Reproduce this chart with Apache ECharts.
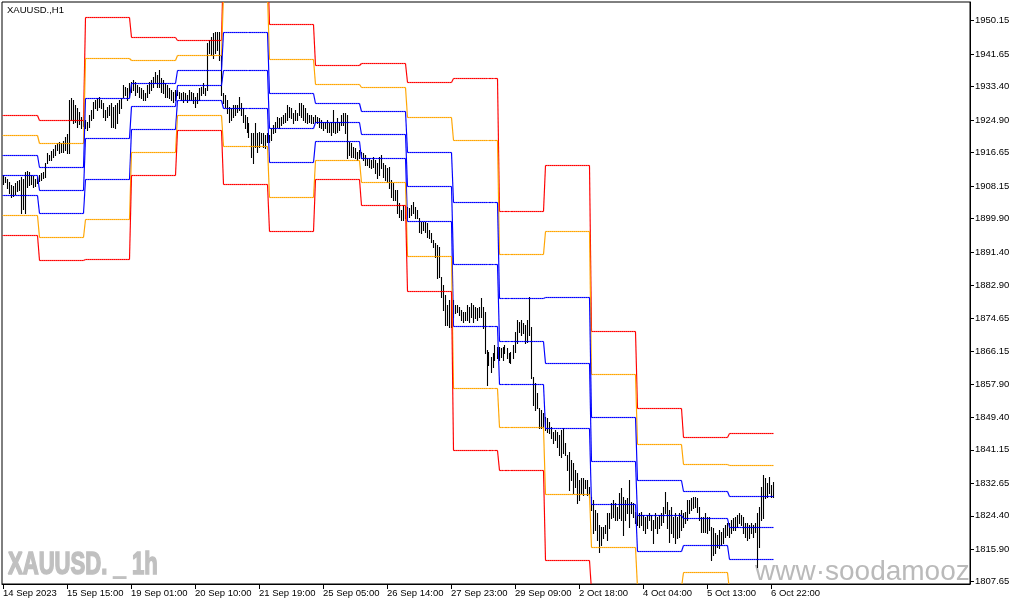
<!DOCTYPE html>
<html><head><meta charset="utf-8">
<script src="https://cdn.jsdelivr.net/npm/echarts@6/dist/echarts.min.js"></script>
<style>html,body{margin:0;padding:0;background:#fff}#c{width:1015px;height:605px}</style>
</head><body><div id="c"></div>
<script>
// bars per trading day: 14 Sep (from 06:00), then 15,18,19,20,21,22,25,26,27,28,29 Sep, 2,3,4,5,6 Oct
const dayBars = [18,23,23,23,23,23,23,23,23,23,23,23,23,23,23,23,23];

// hourly highs
const high = [
1911.0,1910.4,1909.9,1909.2,1908.4,1908.2,1908.9,1909.4,1909.7,1910.4,1909.9,1911.7,1912.0,1911.7,1911.0,1910.7,1909.9,1910.4,
1911.0,1911.5,1911.7,1914.0,1916.5,1916.0,1917.0,1917.6,1918.6,1919.1,1919.3,1919.1,1919.6,1920.6,1921.4,1930.0,1930.5,1930.0,1928.7,1928.0,1927.0,1925.7,1926.2,
1924.9,1924.4,1926.2,1927.5,1929.5,1930.0,1930.5,1930.8,1930.0,1929.2,1927.5,1928.2,1928.7,1929.2,1928.2,1928.7,1929.2,1930.0,1930.5,1933.8,1933.3,1933.0,1934.3,
1934.6,1935.1,1934.6,1933.8,1933.3,1933.0,1932.5,1931.8,1933.8,1934.6,1935.1,1935.8,1937.1,1936.4,1937.6,1935.6,1935.1,1934.3,1933.8,1933.0,1932.5,1932.0,1932.5,
1932.5,1932.0,1931.8,1932.0,1931.8,1931.3,1932.5,1932.0,1931.8,1930.8,1931.8,1933.0,1933.3,1934.3,1933.0,1944.5,1945.2,1946.0,1947.0,1947.3,1947.3,1947.3,1941.4,
1931.8,1931.3,1930.0,1928.2,1928.0,1928.7,1928.7,1928.7,1930.8,1929.2,1928.0,1926.2,1925.7,1924.2,1921.6,1921.6,1924.2,1921.6,1921.9,1921.6,1921.6,1921.1,1921.6,
1921.1,1922.9,1923.7,1924.4,1925.7,1925.4,1925.7,1926.2,1926.7,1928.7,1928.2,1928.0,1926.7,1927.5,1926.7,1929.2,1929.2,1928.7,1928.0,1926.7,1926.2,1926.2,1925.7,
1926.2,1925.7,1925.4,1924.9,1924.4,1924.4,1924.9,1924.2,1924.4,1927.5,1924.4,1925.4,1924.4,1926.2,1926.7,1926.7,1926.2,1919.3,1919.1,1918.1,1917.8,1916.8,1917.3,
1916.8,1916.5,1916.0,1915.3,1915.3,1914.8,1915.5,1914.8,1914.0,1915.5,1916.0,1914.0,1913.5,1912.7,1913.0,1909.7,1908.9,1907.1,1907.1,1903.8,1902.1,1903.3,1902.8,
1902.8,1902.6,1903.3,1904.1,1902.8,1902.1,1900.0,1899.0,1899.0,1899.0,1898.8,1897.0,1896.2,1894.4,1893.7,1893.2,1892.7,1885.0,1883.0,1880.5,1877.9,1879.2,1879.2,
1879.2,1877.9,1877.9,1877.4,1876.7,1876.2,1876.2,1877.9,1877.4,1878.4,1877.9,1877.4,1877.2,1877.4,1879.7,1877.4,1876.2,1866.5,1866.0,1864.7,1865.7,1867.8,1867.3,
1867.3,1867.0,1867.3,1867.8,1867.0,1865.7,1866.0,1867.8,1871.1,1874.1,1873.6,1874.1,1873.4,1872.8,1874.1,1880.0,1872.3,1859.6,1858.1,1855.6,1851.8,1851.3,1850.5,
1849.5,1849.2,1848.2,1846.9,1845.7,1846.2,1845.7,1844.9,1846.2,1846.7,1842.9,1839.8,1840.6,1838.6,1837.8,1836.0,1835.3,1833.5,1834.0,1834.0,1833.5,1833.5,1831.7,
1829.2,1828.4,1825.9,1825.1,1822.1,1821.5,1821.5,1822.1,1825.1,1825.1,1827.6,1828.4,1827.6,1826.6,1830.2,1831.4,1829.2,1828.4,1828.9,1833.5,1827.9,1827.6,1825.4,
1825.1,1825.1,1825.4,1824.6,1824.1,1824.6,1825.1,1824.6,1823.3,1825.1,1824.1,1824.6,1825.1,1826.6,1830.4,1827.9,1825.9,1826.6,1824.1,1825.1,1824.1,1825.1,1825.9,
1825.1,1825.4,1828.4,1828.4,1828.9,1829.2,1829.2,1828.9,1826.6,1824.1,1824.1,1825.1,1824.1,1824.1,1821.5,1821.3,1820.0,1819.5,1820.8,1820.3,1821.3,1822.1,1822.6,
1822.6,1823.3,1823.8,1824.1,1824.6,1825.1,1824.6,1824.1,1822.6,1822.6,1822.1,1822.6,1822.1,1822.6,1825.1,1826.6,1831.7,1834.8,1834.0,1832.7,1834.2,1832.2,1833.0
];

// hourly lows
const low = [
1908.7,1909.2,1907.7,1906.4,1905.4,1905.6,1906.1,1906.9,1907.1,1901.3,1902.3,1901.3,1907.9,1908.4,1908.7,1907.9,1908.2,1908.9,
1909.4,1909.7,1910.2,1910.4,1914.0,1914.8,1914.8,1915.5,1916.0,1917.3,1916.5,1916.8,1916.8,1917.3,1916.5,1916.5,1924.9,1924.2,1924.4,1923.1,1923.9,1922.9,1923.4,
1922.9,1922.4,1923.1,1924.9,1925.4,1928.0,1927.5,1928.2,1928.0,1925.7,1924.9,1925.7,1926.2,1923.1,1923.1,1922.9,1924.2,1926.7,1928.0,1930.8,1931.3,1930.0,1930.8,
1932.0,1932.5,1931.3,1932.0,1930.8,1930.5,1930.0,1930.0,1930.8,1931.8,1932.5,1933.3,1934.3,1933.3,1933.3,1932.0,1931.8,1930.8,1930.8,1930.5,1930.0,1929.5,1930.0,
1931.3,1930.5,1930.0,1929.5,1930.0,1929.5,1930.0,1930.0,1929.2,1928.2,1929.2,1930.0,1931.3,1931.8,1931.3,1932.5,1941.9,1941.4,1940.7,1941.9,1942.7,1940.2,1931.3,
1929.2,1928.2,1926.7,1924.4,1924.9,1925.7,1926.2,1927.0,1927.5,1926.2,1924.4,1922.9,1921.9,1920.6,1915.5,1914.0,1918.1,1916.8,1918.1,1919.1,1918.1,1917.8,1919.3,
1919.3,1919.8,1921.6,1921.9,1923.1,1922.9,1923.7,1924.2,1924.4,1924.9,1925.7,1925.4,1924.2,1924.9,1924.9,1926.2,1925.7,1924.9,1924.4,1924.2,1924.4,1924.2,1924.2,
1924.4,1924.2,1923.1,1922.9,1922.4,1922.9,1921.9,1921.9,1921.1,1921.9,1921.6,1921.9,1922.4,1923.7,1923.7,1921.6,1915.3,1916.0,1915.5,1915.5,1915.3,1914.8,1915.3,
1915.3,1914.8,1913.5,1913.5,1913.0,1912.7,1913.0,1911.5,1910.2,1911.0,1912.7,1910.4,1909.7,1909.2,1907.7,1905.4,1904.6,1904.6,1901.3,1900.3,1899.5,1899.5,1900.0,
1900.3,1900.3,1900.8,1901.3,1900.0,1900.0,1896.5,1896.2,1897.0,1896.5,1895.2,1895.0,1893.9,1892.7,1890.1,1884.8,1885.0,1880.0,1876.7,1872.8,1872.8,1872.3,1872.3,
1874.9,1875.9,1876.2,1875.4,1874.1,1873.6,1874.1,1874.1,1873.6,1874.9,1873.6,1874.6,1874.1,1874.9,1874.9,1872.1,1865.7,1857.6,1862.7,1860.9,1862.2,1864.0,1864.5,
1864.0,1864.7,1864.0,1865.7,1864.5,1863.5,1863.2,1864.5,1866.0,1868.3,1871.1,1870.3,1870.8,1868.3,1868.5,1870.3,1859.4,1852.5,1851.3,1851.8,1846.7,1846.7,1846.9,
1846.2,1845.7,1845.4,1844.1,1842.9,1843.6,1841.9,1839.8,1839.3,1840.3,1839.8,1836.0,1830.9,1833.5,1830.2,1831.7,1827.6,1828.4,1830.2,1829.7,1831.4,1829.7,1829.2,
1825.9,1820.0,1820.8,1818.2,1815.2,1817.0,1818.7,1820.0,1818.2,1821.3,1823.8,1824.1,1823.3,1823.3,1823.8,1823.3,1819.5,1823.3,1825.1,1821.5,1825.1,1824.1,1822.6,
1822.1,1821.5,1822.1,1820.8,1820.0,1821.3,1823.3,1820.8,1817.5,1821.3,1820.0,1821.3,1822.1,1822.8,1825.1,1821.3,1817.7,1820.0,1819.0,1817.5,1818.7,1819.0,1820.8,
1821.5,1822.6,1823.3,1825.1,1825.9,1826.4,1826.6,1825.4,1823.3,1820.3,1820.3,1820.3,1820.0,1820.8,1813.2,1814.4,1814.9,1816.5,1816.2,1817.0,1817.5,1819.0,1819.5,
1819.0,1820.0,1820.8,1820.8,1821.5,1822.6,1822.1,1820.0,1819.0,1818.2,1818.7,1820.0,1819.0,1820.3,1811.4,1816.5,1823.3,1823.8,1828.9,1829.2,1830.2,1829.2,1829.2
];

// daily levels (one value per day)
const r3 = [1926.2,1924.9,1951.0,1945.9,1945.2,1966.7,1949.2,1938.9,1939.3,1934.6,1935.5,1901.7,1913.5,1871.3,1851.8,1844.4,1845.3];
const r2 = [1921.1,1919.0,1940.7,1940.1,1941.4,1957.0,1940.5,1934.0,1933.3,1925.7,1919.8,1890.8,1896.7,1860.3,1842.7,1837.5,1837.4];
const r1 = [1916.0,1913.1,1930.5,1934.3,1937.6,1947.4,1931.7,1929.2,1927.3,1916.9,1904.0,1879.8,1880.0,1849.4,1833.6,1830.7,1829.4];
const pp = [1911.0,1907.1,1920.3,1928.5,1933.8,1937.7,1922.9,1924.4,1921.3,1908.1,1888.3,1868.8,1863.3,1838.4,1824.5,1823.8,1821.5];
const s1 = [1905.9,1901.2,1910.0,1922.7,1929.9,1928.0,1914.2,1919.5,1915.3,1899.2,1872.5,1857.8,1846.6,1827.5,1815.4,1817.0,1813.5];
const s2 = [1900.8,1895.3,1899.7,1916.8,1926.1,1918.4,1905.4,1914.7,1909.3,1890.4,1856.8,1846.9,1829.9,1816.5,1806.3,1810.1,1805.6];
const s3 = [1895.7,1889.4,1889.5,1911.0,1922.3,1908.7,1896.7,1909.9,1903.3,1881.5,1841.0,1835.9,1813.2,1805.5,1797.2,1803.3,1797.6];

const priceTicks = [1950.15,1941.65,1933.40,1924.90,1916.65,1908.15,1899.90,1891.40,1882.90,1874.65,1866.15,1857.90,1849.40,1841.15,1832.65,1824.40,1815.90,1807.65];
const timeLabels = ['14 Sep 2023','15 Sep 15:00','19 Sep 01:00','20 Sep 10:00','21 Sep 19:00','25 Sep 05:00','26 Sep 14:00','27 Sep 23:00','29 Sep 09:00','2 Oct 18:00','4 Oct 04:00','5 Oct 13:00','6 Oct 22:00'];
const labelStep = 32;
const totalSlots = 484;

const FONT = '"Liberation Sans", Arial, sans-serif';
const cats = Array.from({length: totalSlots}, (_, i) => String(i));
const dayOf = [];
dayBars.forEach((c, d) => { for (let k = 0; k < c; k++) dayOf.push(d); });

const showIdx = (i) => i % labelStep === 0 && (i / labelStep) < timeLabels.length;

function levelSeries(arr, color) {
  const vals = dayOf.map(d => arr[d]);
  return {
    type: 'custom', clip: true, z: 5, silent: true,
    encode: {x: 0, y: 1},
    data: vals.map((v, i) => [i, v]),
    renderItem(params, api) {
      const i = api.value(0);
      const cur = api.coord([i, api.value(1)]);
      const prev = i > 0 ? api.coord([i - 1, vals[i - 1]]) : [cur[0] - 1, cur[1]];
      const sx = p => Math.floor(p) + 0.5, sy = p => Math.round(p) + 0.5;
      return {
        type: 'polyline',
        shape: {points: [[sx(prev[0]), sy(prev[1])], [sx(cur[0]), sy(cur[1])]]},
        style: {stroke: color, lineWidth: 1.15, fill: null}
      };
    }
  };
}

const chart = echarts.init(document.getElementById('c'), null, {renderer: 'canvas'});
chart.setOption({
  animation: false,
  backgroundColor: '#fff',
  grid: {left: 2, right: 45, top: 2, bottom: 21, show: true, borderColor: '#000', borderWidth: 1, containLabel: false, outerBoundsMode: 'none'},
  xAxis: {
    type: 'category', data: cats, boundaryGap: true,
    axisLine: {lineStyle: {color: '#000', width: 1}},
    axisTick: {show: true, alignWithLabel: true, interval: showIdx, length: 5, lineStyle: {color: '#000'}},
    axisLabel: {
      interval: showIdx, align: 'left', margin: 4, color: '#000', fontSize: 9.5, fontFamily: FONT,
      formatter: (v, i) => timeLabels[i / labelStep] || ''
    },
    splitLine: {show: false}
  },
  yAxis: {
    type: 'value', position: 'right', min: 1807.07, max: 1954.9, scale: true,
    axisLine: {show: true, lineStyle: {color: '#000', width: 1}},
    axisTick: {show: true, length: 4, customValues: priceTicks, lineStyle: {color: '#000'}},
    axisLabel: {customValues: priceTicks, margin: 5, color: '#000', fontSize: 9.5, fontFamily: FONT, formatter: v => v.toFixed(2)},
    splitLine: {show: false}
  },
  graphic: [
    {type: 'text', x: 7, y: 5, style: {text: 'XAUUSD.,H1', fontSize: 9.5, fontFamily: FONT, fill: '#000', verticalAlign: 'top', textVerticalAlign: 'top'}},
    {type: 'text', x: 8, y: 565, scaleX: 0.69, z: 0, style: {text: 'XAUUSD. _ 1h', fontSize: 32, fontWeight: 'bold', fontFamily: FONT, fill: '#c0c0c0', stroke: '#c0c0c0', lineWidth: 1.6, verticalAlign: 'middle', textVerticalAlign: 'middle'}},
    {type: 'text', x: 755, y: 586, z: 0, style: {text: 'www·soodamooz', fontSize: 28, fontFamily: FONT, fill: '#bababa', verticalAlign: 'bottom', textVerticalAlign: 'bottom'}}
  ],
  series: [
    {
      type: 'custom', clip: true, z: 3, silent: true,
      encode: {x: 0, y: [1, 2]},
      data: high.map((h, i) => [i, h, low[i]]),
      renderItem(params, api) {
        const a = api.coord([api.value(0), api.value(1)]);
        const b = api.coord([api.value(0), api.value(2)]);
        const x = Math.floor(a[0]) + 0.5;
        return {type: 'line', shape: {x1: x, y1: Math.round(a[1]), x2: x, y2: Math.round(b[1]) + 1}, style: {stroke: '#000', lineWidth: 1.1}};
      }
    },
    levelSeries(r3, '#ff0000'),
    levelSeries(r2, '#ffa500'),
    levelSeries(r1, '#0000ff'),
    levelSeries(pp, '#0000ff'),
    levelSeries(s1, '#0000ff'),
    levelSeries(s2, '#ffa500'),
    levelSeries(s3, '#ff0000')
  ]
});
</script></body></html>
